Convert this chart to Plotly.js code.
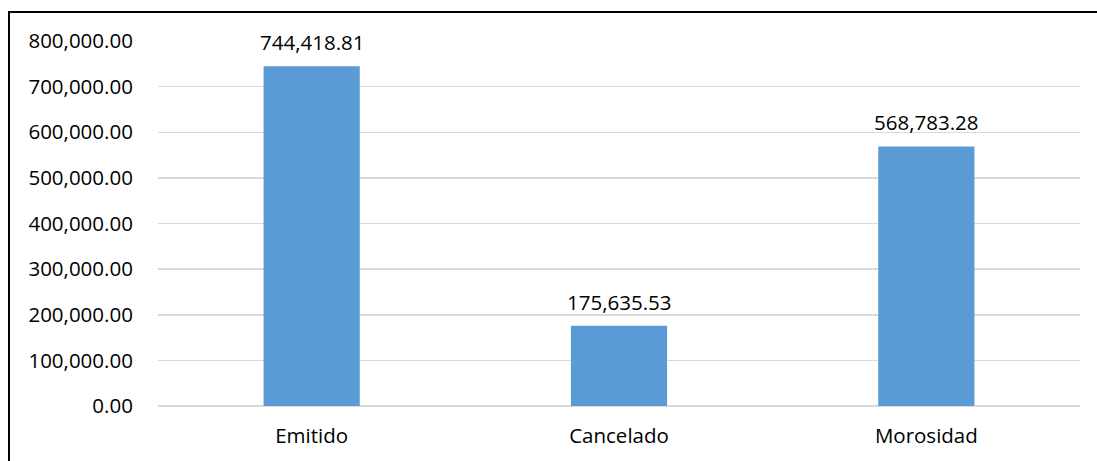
<!DOCTYPE html>
<html>
<head>
<meta charset="utf-8">
<script src="https://cdn.plot.ly/plotly-3.0.1.min.js"></script>
<style>
html,body{margin:0;padding:0;background:#fff;}
#wrap{position:relative;width:1097px;height:461px;}
#chart{width:1097px;height:461px;}
#frame{position:absolute;left:8px;top:11px;width:1200px;height:600px;border-top:2px solid #000;border-left:2px solid #000;pointer-events:none;}
</style>
</head>
<body>
<div id="wrap"><div id="chart"></div><div id="frame"></div></div>
<script>
const categories = ["Emitido", "Cancelado", "Morosidad"];
const values = [744418.81, 175635.53, 568783.28];
const tickValues = [0, 100000, 200000, 300000, 400000, 500000, 600000, 700000, 800000];

const fmt = v => v.toLocaleString('en-US', {minimumFractionDigits: 2, maximumFractionDigits: 2});
const FONT = "Open Sans, Liberation Sans, sans-serif";
const FS = 20.5;

const trace = {
  type: 'bar',
  x: categories,
  y: values,
  marker: {color: '#5B9BD5'},
  hoverinfo: 'skip'
};

const annotations = categories.map((c, i) => ({
  x: c, y: values[i], xref: 'x', yref: 'y',
  text: fmt(values[i]), showarrow: false,
  yanchor: 'bottom', yshift: 8,
  font: {family: FONT, size: FS, color: '#000'}
}));

const layout = {
  width: 1097, height: 461,
  margin: {l: 158, r: 17, t: 41, b: 55},
  paper_bgcolor: '#fff', plot_bgcolor: '#fff',
  showlegend: false,
  bargap: 0.687,
  font: {family: FONT, size: FS, color: '#000'},
  xaxis: {
    type: 'category',
    showgrid: false, showline: false, zeroline: false,
    ticks: 'outside', ticklen: 11, tickcolor: 'rgba(0,0,0,0)',
    tickfont: {family: FONT, size: FS, color: '#000'}
  },
  yaxis: {
    range: [0, 800000],
    tickvals: tickValues,
    ticktext: tickValues.map(fmt),
    showgrid: true, gridcolor: '#D9D9D9', gridwidth: 1.5,
    zeroline: true, zerolinecolor: '#D9D9D9', zerolinewidth: 1.5,
    showline: false,
    ticks: 'outside', ticklen: 20, tickcolor: 'rgba(0,0,0,0)',
    tickfont: {family: FONT, size: FS, color: '#000'}
  },
  annotations: annotations
};

Plotly.newPlot('chart', [trace], layout, {displayModeBar: false, staticPlot: true});
</script>
</body>
</html>
